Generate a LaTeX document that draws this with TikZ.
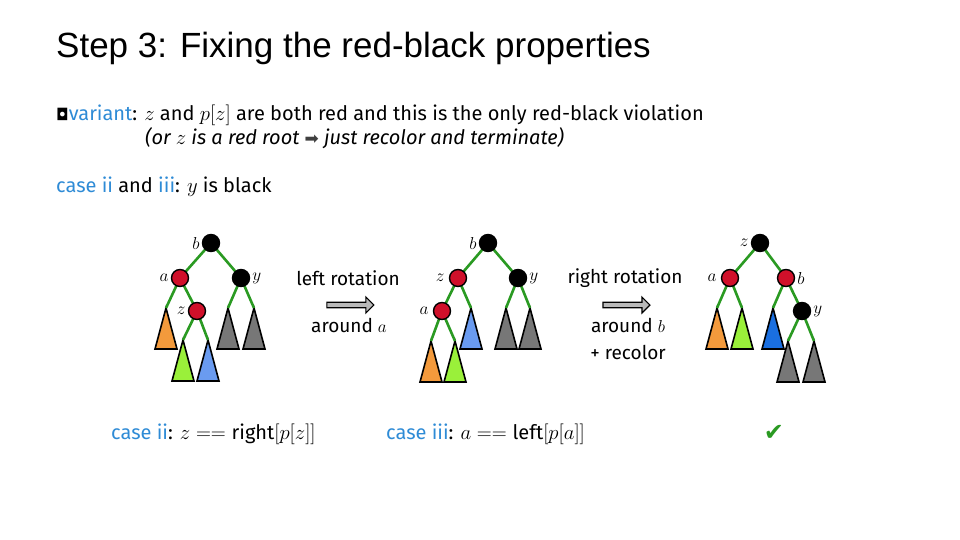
\documentclass[tikz,border=0pt]{standalone}
\usepackage{fontspec}
\setmainfont{Fira Sans}
\newfontfamily\titlefont{Liberation Sans}
\newfontfamily\symfont{DejaVu Sans}
\usetikzlibrary{shapes.arrows,positioning,calc}
\definecolor{kblue}{HTML}{2E8BD6}
\definecolor{kred}{HTML}{D0102A}
\definecolor{kgreen}{HTML}{2A9A22}
\definecolor{korange}{HTML}{F39A3C}
\definecolor{klime}{HTML}{9AF03A}
\definecolor{ksky}{HTML}{6A9BF0}
\definecolor{kdblue}{HTML}{1A6FE0}
\definecolor{kgray}{HTML}{777777}
\tikzset{
  rn/.style={circle,draw=black,line width=1.4pt,fill=kred,minimum size=17pt,inner sep=0pt},
  bn/.style={circle,draw=black,line width=1.4pt,fill=black,minimum size=17pt,inner sep=0pt},
  edge/.style={kgreen,line width=2.6pt},
  tri/.style={draw=black,line width=1.6pt,line join=miter},
  lbl/.style={font=\fontsize{19}{22}\selectfont,inner sep=1pt},
  txt/.style={font=\fontsize{20}{24}\selectfont,anchor=base west,inner sep=0pt},
  barrow/.style={single arrow,draw=black,fill=gray!55,line width=1.2pt,minimum height=47pt,minimum width=16pt,single arrow head extend=3pt,inner sep=1pt}
}
\newcommand\subtree[4]{\coordinate (#1) at (#2,#3);
  \draw[tri,fill=#4] ($(#1)+(-11,41)$) -- (#1) -- ($(#1)+(11,41)$) -- cycle;}
\begin{document}
\begin{tikzpicture}[x=1pt,y=-1pt]
\useasboundingbox[fill=white] (0,0) rectangle (960,540);
\node[anchor=base west,inner sep=0pt,font=\titlefont\fontsize{35}{40}\selectfont] (title) at (56,58) {Step 3: Fixing the red-black properties};
\node[txt] (inv) at (56,121) {{\symfont\fontsize{16}{16}\selectfont ◘}\textcolor{kblue}{variant}: $z$ and $p[z]$ are both red and this is the only red-black violation};
\node[txt] (inv2) at (145,145) {\itshape (or $z$ is a red root {\symfont\upshape\fontsize{17}{17}\selectfont\textcolor{darkgray}{➡}} just recolor and terminate)};
\node[txt] (cases) at (56,193) {\textcolor{kblue}{case ii} and \textcolor{kblue}{iii}: $y$ is black};

% tree 1
\subtree{t1o}{166}{308}{korange}
\subtree{t1l}{183}{340}{klime}
\subtree{t1b}{208}{340}{ksky}
\subtree{t1g}{228}{308}{kgray}
\subtree{t1h}{254}{308}{kgray}
\coordinate (p1b) at (211,243); \coordinate (p1a) at (180,278);
\coordinate (p1y) at (241,278); \coordinate (p1z) at (197,311);
\draw[edge] (p1b)--(p1a) (p1b)--(p1y) (p1a)--(t1o) (p1a)--(p1z) (p1z)--(t1l) (p1z)--(t1b) (p1y)--(t1g) (p1y)--(t1h);
\node[bn] (n1b) at (p1b) {}; \node[rn] (n1a) at (p1a) {};
\node[bn] (n1y) at (p1y) {}; \node[rn] (n1z) at (p1z) {};
\node[lbl,left=1pt of n1b] (l1b) {$b$};
\node[lbl,left=1pt of n1a] (l1a) {$a$};
\node[lbl,right=1pt of n1y] (l1y) {$y$};
\node[lbl,left=1pt of n1z] (l1z) {$z$};

% arrow 1
\node[barrow] (ar1) at (349,305) {};
\node[lbl] (ar1t) at (348,278) {left rotation};
\node[lbl] (ar1b) at (349,325) {around $a$};

% tree 2
\subtree{t2o}{431}{341}{korange}
\subtree{t2l}{455}{341}{klime}
\subtree{t2b}{471}{308}{ksky}
\subtree{t2g}{506}{308}{kgray}
\subtree{t2h}{530}{308}{kgray}
\coordinate (p2b) at (488,243); \coordinate (p2z) at (458,278);
\coordinate (p2y) at (518,278); \coordinate (p2a) at (442,311);
\draw[edge] (p2b)--(p2z) (p2b)--(p2y) (p2z)--(p2a) (p2z)--(t2b) (p2a)--(t2o) (p2a)--(t2l) (p2y)--(t2g) (p2y)--(t2h);
\node[bn] (n2b) at (p2b) {}; \node[rn] (n2z) at (p2z) {};
\node[bn] (n2y) at (p2y) {}; \node[rn] (n2a) at (p2a) {};
\node[lbl,left=1pt of n2b] (l2b) {$b$};
\node[lbl,left=3pt of n2z] (l2z) {$z$};
\node[lbl,right=1pt of n2y] (l2y) {$y$};
\node[lbl,left=3pt of n2a] (l2a) {$a$};

% arrow 2
\node[barrow] (ar2) at (625,305) {};
\node[lbl] (ar2t) at (625,278) {right rotation};
\node[lbl] (ar2b) at (628,325) {around $b$};
\node[lbl] (ar2c) at (628,352) {+ recolor};

% tree 3
\subtree{t3o}{717}{308}{korange}
\subtree{t3l}{742}{308}{klime}
\subtree{t3b}{773}{308}{kdblue}
\subtree{t3g}{788}{341}{kgray}
\subtree{t3h}{814}{341}{kgray}
\coordinate (p3z) at (760,243); \coordinate (p3a) at (730,278);
\coordinate (p3b) at (786,278); \coordinate (p3y) at (802,311);
\draw[edge] (p3z)--(p3a) (p3z)--(p3b) (p3a)--(t3o) (p3a)--(t3l) (p3b)--(t3b) (p3b)--(p3y) (p3y)--(t3g) (p3y)--(t3h);
\node[bn] (n3z) at (p3z) {}; \node[rn] (n3a) at (p3a) {};
\node[rn] (n3b) at (p3b) {}; \node[bn] (n3y) at (p3y) {};
\node[lbl,left=1pt of n3z] (l3z) {$z$};
\node[lbl,left=3pt of n3a] (l3a) {$a$};
\node[lbl,right=1pt of n3b] (l3b) {$b$};
\node[lbl,right=1pt of n3y] (l3y) {$y$};

% bottom
\node[txt] (c2) at (111,439) {\textcolor{kblue}{case ii}: $z == \mathrm{right}[p[z]]$};
\node[txt] (c3) at (386,439) {\textcolor{kblue}{case iii}: $a == \mathrm{left}[p[a]]$};
\node[inner sep=0pt,font=\symfont\fontsize{24}{24}\selectfont,text=kgreen] (chk) at (774,433) {✔};
\end{tikzpicture}
\end{document}
